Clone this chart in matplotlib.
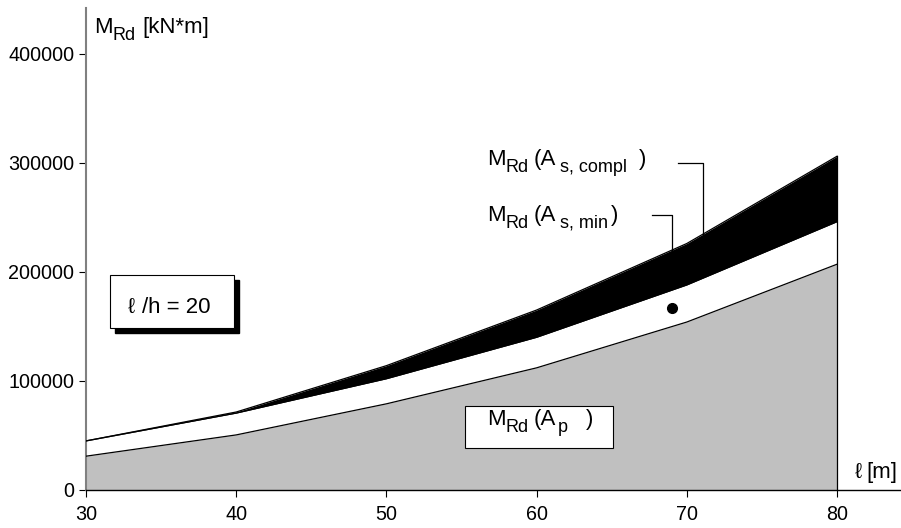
import numpy as np
import matplotlib
matplotlib.use("Agg")
import matplotlib.pyplot as plt
from matplotlib.patches import Rectangle

plt.rcParams['font.family'] = ['Liberation Sans', 'DejaVu Sans']

# span length l [m]
span = [30, 40, 50, 60, 70, 80]
# M_Rd [kN*m]
m_ap = [31000, 50500, 79000, 112000, 154000, 207000]
m_as_min = [45000, 70500, 102000, 140000, 188000, 246000]
m_as_compl = [45000, 71500, 114000, 165000, 226000, 306000]
point_x = [69]
point_y = [167000]
y_ticks = [0, 100000, 200000, 300000, 400000]
x_ticks = [30, 40, 50, 60, 70, 80]

FS = 16     # main text size
SUB = 13    # subscript size
SUB_DY = -7  # subscript shift, pixels

fig = plt.figure(figsize=(9.01, 5.28), dpi=100)
ax = fig.add_axes([0.0955, 0.072, 0.9035, 0.913])
renderer = fig.canvas.get_renderer()


def rich_text(x, y, parts, zorder=7):
    ''' Write text pieces one after another from data point (x, y) on the baseline.
        A piece is a number (gap in pixels) or (text, is_subscript). '''
    off = 0.0
    for p in parts:
        if isinstance(p, (int, float)):
            off += p
            continue
        s, sub = p
        t = ax.annotate(s, xy=(x, y), xycoords='data', xytext=(off, SUB_DY if sub else 0),
                        textcoords='offset pixels', fontsize=SUB if sub else FS,
                        va='baseline', ha='left', zorder=zorder, annotation_clip=False)
        off += t.get_window_extent(renderer).width


ax.fill_between(span, 0, m_ap, color='#c0c0c0', lw=0, zorder=1)
ax.fill_between(span, m_as_min, m_as_compl, color='black', lw=0, zorder=3)
ax.plot(span, m_ap, color='black', lw=0.9, zorder=4)
ax.plot(span, m_as_min, color='black', lw=0.9, zorder=4)
ax.plot(span, m_as_compl, color='black', lw=0.9, zorder=4)
ax.plot([span[-1], span[-1]], [0, m_as_compl[-1]], color='black', lw=0.9, zorder=4)
ax.plot(point_x, point_y, 'o', color='black', ms=7, zorder=5)

# leader lines
yc = np.interp(71.1, span, m_as_compl)
ax.plot([69.4, 71.1, 71.1], [300000, 300000, yc], color='black', lw=0.9, zorder=2)
ym = np.interp(69.0, span, m_as_compl)
ax.plot([67.7, 69.0, 69.0], [252000, 252000, ym], color='black', lw=0.9, zorder=2)

rich_text(56.7, 298000, [('M', 0), ('Rd', 1), 5, ('(A', 0), 4, ('s, compl', 1), 12, (')', 0)])
rich_text(56.7, 247000, [('M', 0), ('Rd', 1), 5, ('(A', 0), 4, ('s, min', 1), 3, (')', 0)])

# l/h box with shadow
ax.add_patch(Rectangle((31.95, 143800), 8.25, 48500, color='black', zorder=5))
ax.add_patch(Rectangle((31.6, 148600), 8.25, 48500, facecolor='white', edgecolor='black', lw=0.8, zorder=6))
rich_text(32.8, 162000, [('\u2113', 0), 7, ('/h = 20', 0)])

# Ap label box
ax.add_patch(Rectangle((55.2, 38500), 9.9, 38500, facecolor='white', edgecolor='black', lw=0.8, zorder=6))
rich_text(56.7, 59600, [('M', 0), ('Rd', 1), 5, ('(A', 0), 2, ('p', 1), 18, (')', 0)])

rich_text(30.55, 419300, [('M', 0), ('Rd', 1), 6, ('[kN*m]', 0)])
rich_text(81.2, 11000, [('\u2113', 0), 4, ('[m]', 0)])

ax.set_xlim(30, 84.2)
ax.set_ylim(0, 442000)
ax.set_xticks(x_ticks)
ax.set_yticks(y_ticks)
ax.tick_params(labelsize=14.2, length=5, direction='out')
ax.tick_params(axis='x', pad=6)
ax.spines['top'].set_visible(False)
ax.spines['right'].set_visible(False)
ax.spines['left'].set_color('#808080')
ax.spines['left'].set_linewidth(1.5)
ax.spines['bottom'].set_color('black')
ax.spines['bottom'].set_linewidth(1.0)

fig.savefig('out.png', dpi=100)
